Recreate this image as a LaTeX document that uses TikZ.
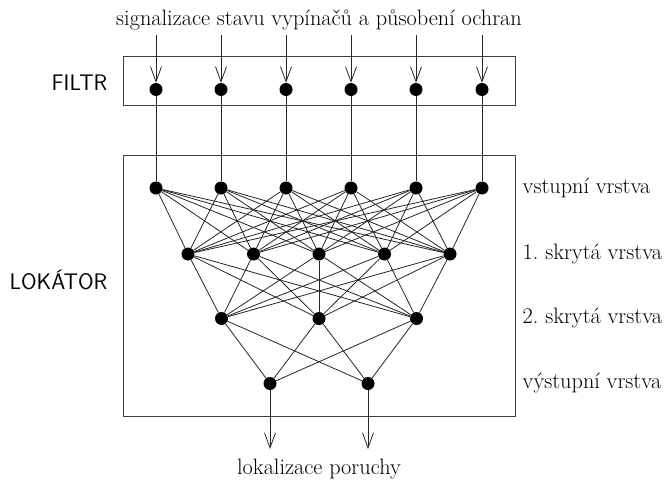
\documentclass[tikz,border=0pt]{standalone}
\usepackage{fontspec}
\usetikzlibrary{arrows.meta}
\begin{document}
\begin{tikzpicture}[x=1pt,y=-1pt,
  neuron/.style={circle,fill=black,inner sep=0pt,minimum size=13pt},
  link/.style={line width=0.8pt,black!85},
  sig/.style={link,-{Straight Barb[length=15pt,width=11pt,line width=0.8pt]}},
  frame/.style={line width=0.9pt,black!75},
  txt/.style={inner sep=0pt,font=\fontsize{22.3}{26}\selectfont},
  blk/.style={inner sep=0pt,font=\sffamily\fontsize{22.5}{26}\selectfont}]
\useasboundingbox (0,0) rectangle (667,482);

% block frames
\draw[frame] (123,56.5) rectangle (515,105.5);
\draw[frame] (123,155.5) rectangle (515,416.5);

% block names and layer captions
\node[blk,anchor=east] (filtr) at (107.5,83) {FILTR};
\node[blk,anchor=east] (lokator) at (107.5,280) {LOKÁTOR};
\node[txt,anchor=base] (top) at (319,25) {signalizace stavu vypínačů a působení ochran};
\node[txt,anchor=base] (bottom) at (319,474) {lokalizace poruchy};
\node[txt,anchor=west] (l1) at (522.5,188) {vstupní vrstva};
\node[txt,anchor=west] (l2) at (522.5,254) {1.~skrytá vrstva};
\node[txt,anchor=west] (l3) at (522.5,318) {2.~skrytá vrstva};
\node[txt,anchor=west] (l4) at (522.5,383) {výstupní vrstva};

% filter and input layer
\foreach \x [count=\i] in {156,221,286,351,416,482} {
  \coordinate (s\i) at (\x,35);
  \node[neuron] (f\i) at (\x,89.5) {};
  \node[neuron] (a\i) at (\x,188) {};
}
% hidden layers and output
\foreach \x [count=\i] in {188,253.5,319,384.5,450}
  \node[neuron] (b\i) at (\x,254) {};
\foreach \x [count=\i] in {221.5,319,416.5}
  \node[neuron] (c\i) at (\x,318.5) {};
\foreach \x [count=\i] in {270,368}
  \node[neuron] (d\i) at (\x,383.5) {};
\coordinate (e1) at (270,449);
\coordinate (e2) at (368,449);

% signals into the filter, filter to input layer
\foreach \i in {1,...,6} {
  \draw[sig] (s\i) -- (f\i);
  \draw[link] (f\i) -- (a\i);
}
% full connections between layers
\foreach \i in {1,...,6}
  \foreach \j in {1,...,5}
    \draw[link] (a\i) -- (b\j);
\foreach \i in {1,...,5}
  \foreach \j in {1,...,3}
    \draw[link] (b\i) -- (c\j);
\foreach \i in {1,...,3}
  \foreach \j in {1,2}
    \draw[link] (c\i) -- (d\j);
% outputs
\draw[sig] (d1) -- (e1);
\draw[sig] (d2) -- (e2);
\end{tikzpicture}
\end{document}
